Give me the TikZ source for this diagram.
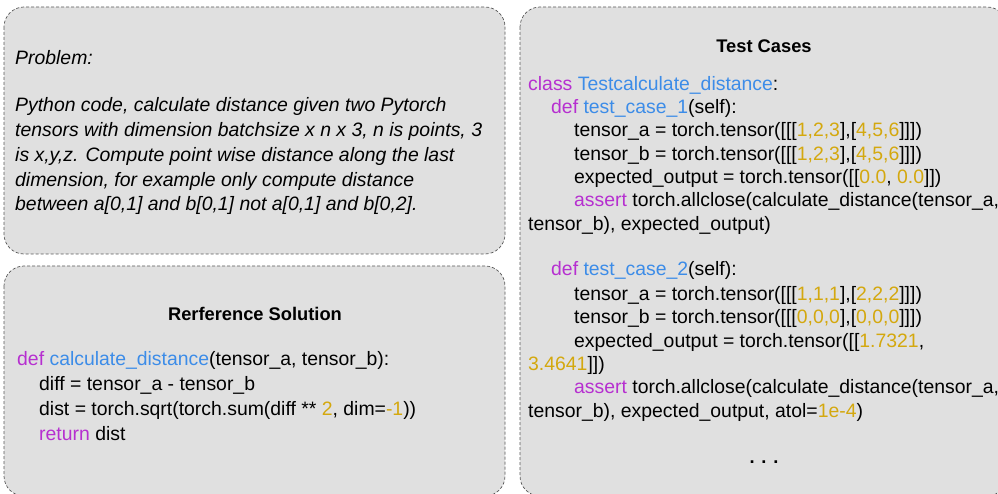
\documentclass[tikz,border=0pt]{standalone}
\usepackage{fontspec}
\setmainfont{Liberation Sans}
\definecolor{kwpurple}{HTML}{B62FD0}
\definecolor{fnblue}{HTML}{3C8CE8}
\definecolor{numgold}{HTML}{D4A80E}
\definecolor{boxgray}{HTML}{E0E0E0}
\newcommand{\kwd}[1]{\textcolor{kwpurple}{#1}}
\newcommand{\fnc}[1]{\textcolor{fnblue}{#1}}
\newcommand{\numb}[1]{\textcolor{numgold}{#1}}
\tikzset{
    panel/.style={draw=black!65, dash pattern=on 3pt off 2pt, line width=0.7pt, fill=boxgray, rounded corners=20pt},
    codeline/.style={anchor=base west, inner sep=0pt, font=\fontsize{19.4}{23}\selectfont},
    probline/.style={anchor=base west, inner sep=0pt, font=\fontsize{19.4}{23}\selectfont\itshape},
    heading/.style={anchor=base, inner sep=0pt, font=\fontsize{18.3}{22}\selectfont\bfseries}
}
\begin{document}
\begin{tikzpicture}[x=1pt,y=-1pt]
    \useasboundingbox (0,0) rectangle (998,494);
    % panels
    \draw[panel] (4,7) rectangle (505,254);
    \draw[panel] (4,266) rectangle (505,496);
    \draw[panel] (520,7) rectangle (1007,496);

    % problem
    \node[probline] (probhead) at (15,65) {Problem:};
    \foreach \txt [count=\i] in {{Python code, calculate distance given two Pytorch},
        {tensors with dimension batchsize x n x 3, n is points, 3},
        {is x,y,z. Compute point wise distance along the last},
        {dimension, for example only compute distance},
        {between a[0,1] and b[0,1] not a[0,1] and b[0,2].}}
    {
        \node[probline] (prob\i) at (15,{87.3+24.7*\i}) {\txt};
    }

    % reference solution
    \node[heading] (refhead) at (255,320) {Rerference Solution};
    \node[codeline] (ref1) at (17,365) {\kwd{def} \fnc{calculate\_distance}(tensor\_a, tensor\_b):};
    \node[codeline] (ref2) at (39,390) {diff = tensor\_a - tensor\_b};
    \node[codeline] (ref3) at (39,415) {dist = torch.sqrt(torch.sum(diff ** \numb{2}, dim=\numb{-1}))};
    \node[codeline] (ref4) at (39,440) {\kwd{return} dist};

    % test cases
    \node[heading] (testhead) at (764,53) {Test Cases};
    \node[codeline] (cls) at (528,91) {\kwd{class} \fnc{Testcalculate\_distance}:};
    \node[codeline] (caseA) at (551,114) {\kwd{def} \fnc{test\_case\_1}(self):};
    \node[codeline] (caseA1) at (574,137) {tensor\_a = torch.tensor([[[\numb{1,2,3}],[\numb{4,5,6}]]])};
    \node[codeline] (caseA2) at (574,161) {tensor\_b = torch.tensor([[[\numb{1,2,3}],[\numb{4,5,6}]]])};
    \node[codeline] (caseA3) at (574,184) {expected\_output = torch.tensor([[\numb{0.0}, \numb{0.0}]])};
    \node[codeline] (caseA4) at (574,207) {\kwd{assert} torch.allclose(calculate\_distance(tensor\_a,};
    \node[codeline] (caseA5) at (528,231) {tensor\_b), expected\_output)};
    \node[codeline] (caseB) at (551,276) {\kwd{def} \fnc{test\_case\_2}(self):};
    \node[codeline] (caseB1) at (574,300) {tensor\_a = torch.tensor([[[\numb{1,1,1}],[\numb{2,2,2}]]])};
    \node[codeline] (caseB2) at (574,323) {tensor\_b = torch.tensor([[[\numb{0,0,0}],[\numb{0,0,0}]]])};
    \node[codeline] (caseB3) at (574,347) {expected\_output = torch.tensor([[\numb{1.7321},};
    \node[codeline] (caseB4) at (528,370) {\numb{3.4641}]])};
    \node[codeline] (caseB5) at (574,393) {\kwd{assert} torch.allclose(calculate\_distance(tensor\_a,};
    \node[codeline] (caseB6) at (528,417) {tensor\_b), expected\_output, atol=\numb{1e-4})};
    \node[heading] (more) at (764,463) {. . .};
\end{tikzpicture}
\end{document}
